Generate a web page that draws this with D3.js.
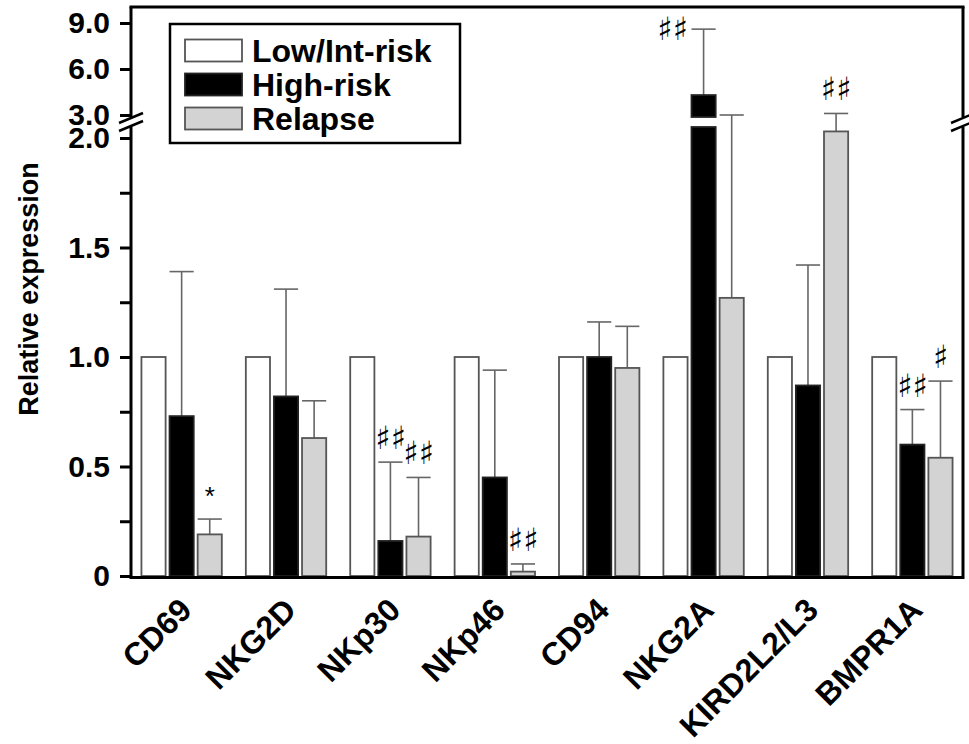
<!DOCTYPE html>
<html>
<head>
<meta charset="UTF-8">
<style>
  body { margin: 0; background: #fff; }
  text { font-family: "Liberation Sans", Arial, sans-serif; }
</style>
</head>
<body>
<svg width="969" height="744"></svg>
<script src="https://cdn.jsdelivr.net/npm/d3@7/dist/d3.min.js"></script>
<script>

var categories = ["CD69", "NKG2D", "NKp30", "NKp46", "CD94", "NKG2A", "KIRD2L2/L3", "BMPR1A"];
var series = ["Low/Int-risk", "High-risk", "Relapse"];

var lowInt = [1, 1, 1, 1, 1, 1, 1, 1];
var highRisk = [0.73, 0.82, 0.16, 0.45, 1.0, 4.3, 0.87, 0.60];
var highRiskSd = [0.66, 0.49, 0.36, 0.49, 0.16, 4.3, 0.55, 0.16];
var relapse = [0.19, 0.63, 0.18, 0.02, 0.95, 1.27, 2.03, 0.54];
var relapseSd = [0.07, 0.17, 0.27, 0.035, 0.19, 1.73, 1.07, 0.35];

var lowTicks = [0, 0.5, 1.0, 1.5, 2.0];
var lowMinor = [0.25, 0.75, 1.25, 1.75];
var highTicks = [3.0, 6.0, 9.0];

// significance marks
var markCats = ["CD69", "NKp30", "NKp30", "NKp46", "NKG2A", "KIRD2L2/L3", "BMPR1A", "BMPR1A"];
var markSeries = ["Relapse", "High-risk", "Relapse", "Relapse", "High-risk", "Relapse", "High-risk", "Relapse"];
var markText = ["*", "\u266F\u266F", "\u266F\u266F", "\u266F\u266F", "\u266F\u266F", "\u266F\u266F", "\u266F\u266F", "\u266F"];

var svg = d3.select("svg");
var pLeft = 131, pRight = 963, pTop = 7, pBottom = 576;
var breakLow = 127, breakHigh = 117;

var yLow = d3.scaleLinear().domain([0, 2]).range([pBottom, 138]);
var yHigh = d3.scaleLinear().domain([3, 9]).range([115, 23]);
function y(v) { return v <= 2.2 ? yLow(v) : yHigh(v); }

var x0 = d3.scaleBand().domain(categories).range([pLeft, pRight])
  .paddingInner(0.23).paddingOuter(0.1);
var x1 = d3.scaleBand().domain(series).range([0, x0.bandwidth()]).paddingInner(0.14);

var fills = {"Low/Int-risk": "#ffffff", "High-risk": "#000000", "Relapse": "#d3d3d3"};
var strokes = {"Low/Int-risk": "#555", "High-risk": "#222", "Relapse": "#555"};

var rows = [];
categories.forEach(function(c, i) {
  rows.push({cat: c, s: "Low/Int-risk", v: lowInt[i], sd: 0});
  rows.push({cat: c, s: "High-risk", v: highRisk[i], sd: highRiskSd[i]});
  rows.push({cat: c, s: "Relapse", v: relapse[i], sd: relapseSd[i]});
});

function bx(d) { return x0(d.cat) + x1(d.s); }

// error bars (behind bars)
var eb = svg.append("g").attr("stroke", "#666").attr("stroke-width", 1.6);
rows.filter(function(d) { return d.sd > 0; }).forEach(function(d) {
  var cx = bx(d) + x1.bandwidth() / 2;
  eb.append("line").attr("x1", cx).attr("x2", cx)
    .attr("y1", y(d.v)).attr("y2", y(d.v + d.sd));
  eb.append("line").attr("x1", bx(d)).attr("x2", bx(d) + x1.bandwidth())
    .attr("y1", y(d.v + d.sd)).attr("y2", y(d.v + d.sd));
});

// bars, split across the axis break when needed
var bars = svg.append("g");
rows.forEach(function(d) {
  var segs = d.v > 2.2 ? [[y(d.v), breakHigh], [breakLow, pBottom]] : [[y(d.v), pBottom]];
  segs.forEach(function(s) {
    bars.append("rect")
      .attr("x", bx(d)).attr("width", x1.bandwidth())
      .attr("y", s[0]).attr("height", s[1] - s[0])
      .attr("fill", fills[d.s]).attr("stroke", strokes[d.s]).attr("stroke-width", 1.8);
  });
});

// marks
markCats.forEach(function(c, i) {
  var d = rows.filter(function(r) { return r.cat === c && r.s === markSeries[i]; })[0];
  var cx = bx(d) + x1.bandwidth() / 2;
  var yt = y(d.v + d.sd);
  var star = markText[i] === "*";
  var tx = cx, ty = star ? yt - 14 : yt - 13;
  if (yt - 30 < pTop) { tx = cx - 31; ty = yt + 11; }
  svg.append("text").attr("x", tx).attr("y", ty)
    .attr("text-anchor", "middle")
    .style("font-family", star ? "Liberation Sans" : "DejaVu Sans")
    .style("font-size", star ? "26px" : "32px")
    .text(markText[i]);
});

// frame and axis lines
var frame = svg.append("g").attr("stroke", "#000").attr("stroke-width", 3).attr("fill", "none");
frame.append("path").attr("d", "M" + pLeft + "," + (pBottom + 1.5) + "H" + pRight);
frame.append("path").attr("d", "M" + (pLeft - 1.5) + "," + pTop + "H" + (pRight + 1.5));
[pLeft, pRight].forEach(function(xx) {
  frame.append("path").attr("d", "M" + xx + "," + (pBottom + 3) + "V" + breakLow);
  frame.append("path").attr("d", "M" + xx + "," + breakHigh + "V" + pTop);
  [-4, 4].forEach(function(o) {
    svg.append("line")
      .attr("x1", xx - 12).attr("y1", 122 + o + 5)
      .attr("x2", xx + 12).attr("y2", 122 + o - 5)
      .attr("stroke", "#000").attr("stroke-width", 2.5);
  });
});

// y axes
function styleAxis(g) {
  g.select(".domain").remove();
  g.selectAll(".tick line").attr("stroke", "#000").attr("stroke-width", 3);
  g.selectAll(".tick text").attr("fill", "#000")
    .style("font-family", "Liberation Sans").style("font-size", "30px").style("font-weight", "bold");
}
var fmt = function(d) { return d === 0 ? "0" : d3.format(".1f")(d); };
svg.append("g").attr("transform", "translate(" + pLeft + ",0)")
  .call(d3.axisLeft(yLow).tickValues(lowTicks).tickFormat(fmt).tickSize(11).tickPadding(10))
  .call(styleAxis);
svg.append("g").attr("transform", "translate(" + pLeft + ",0)")
  .call(d3.axisLeft(yLow).tickValues(lowMinor).tickFormat("").tickSize(11))
  .call(styleAxis);
svg.append("g").attr("transform", "translate(" + pLeft + ",0)")
  .call(d3.axisLeft(yHigh).tickValues(highTicks).tickFormat(fmt).tickSize(11).tickPadding(10))
  .call(styleAxis);

svg.append("text")
  .attr("transform", "translate(38,289) rotate(-90)")
  .attr("text-anchor", "middle")
  .style("font-size", "27px").style("font-weight", "bold")
  .text("Relative expression");

// x labels
categories.forEach(function(c) {
  svg.append("text")
    .attr("transform", "translate(" + (x0(c) + x0.bandwidth() / 2 + 12) + ",612) rotate(-45)")
    .attr("text-anchor", "end")
    .style("font-size", "32px").style("font-weight", "bold")
    .text(c);
});

// legend
var lg = svg.append("g");
lg.append("rect").attr("x", 170).attr("y", 24).attr("width", 290).attr("height", 119)
  .attr("fill", "#fff").attr("stroke", "#000").attr("stroke-width", 2.5);
series.forEach(function(s, i) {
  var cy = 50.5 + i * 34;
  lg.append("rect").attr("x", 185).attr("y", cy - 11).attr("width", 57).attr("height", 22)
    .attr("fill", fills[s]).attr("stroke", strokes[s]).attr("stroke-width", 1.8);
  lg.append("text").attr("x", 252).attr("y", cy + 11)
    .style("font-size", "32px").style("font-weight", "bold")
    .text(s);
});

</script>
</body>
</html>
